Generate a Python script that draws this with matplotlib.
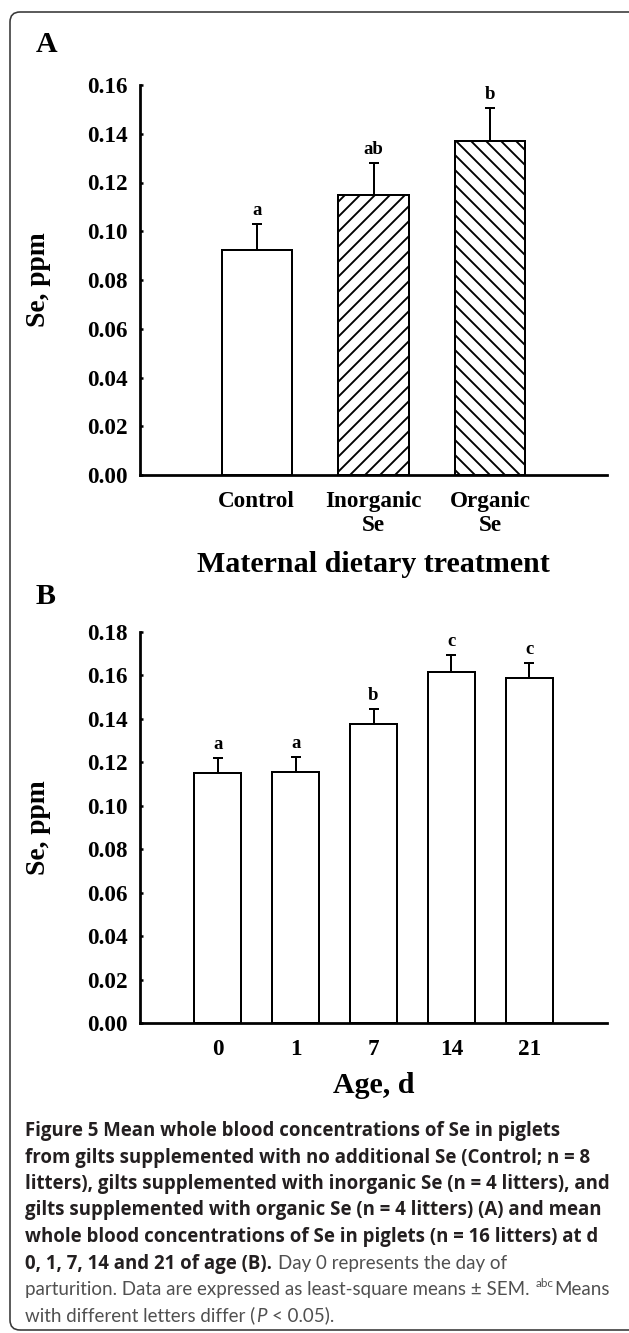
import matplotlib
matplotlib.use('Agg')
import matplotlib.pyplot as plt
from matplotlib.patches import FancyBboxPatch
from matplotlib.transforms import IdentityTransform

# ---- data ----
treatments = ['Control', 'Inorganic\nSe', 'Organic\nSe']
se_treat = [0.0923, 0.1149, 0.1372]
sem_treat = [0.0107, 0.0130, 0.0132]
letters_treat = ['a', 'ab', 'b']
hatches_treat = ['', '//', '\\\\']

ages = ['0', '1', '7', '14', '21']
se_age = [0.1149, 0.1155, 0.1378, 0.1617, 0.1588]
sem_age = [0.0072, 0.0071, 0.0067, 0.0076, 0.0071]
letters_age = ['a', 'a', 'b', 'c', 'c']

W, H, DPI = 629, 1333, 90
serif = 'Liberation Serif'
plt.rcParams['font.family'] = serif
plt.rcParams['font.weight'] = 'bold'
plt.rcParams['hatch.linewidth'] = 1.5
plt.rcParams['hatch.color'] = 'black'

fig = plt.figure(figsize=(W / DPI, H / DPI), dpi=DPI)


def fx(px):
    return px / W


def fy(py):
    return 1 - py / H


def panel(rect, labels, vals, sems, letters, hatches, ymax, bar_w):
    ax = fig.add_axes(rect)
    x = list(range(1, len(vals) + 1))
    ax.bar(x, vals, width=bar_w, color='white', edgecolor='black',
           linewidth=1.6, hatch=hatches, zorder=2)
    ax.errorbar(x, vals, yerr=[[0] * len(vals), sems], fmt='none',
                ecolor='black', elinewidth=1.6, capsize=4, capthick=1.6,
                zorder=1)
    for xi, v, s, lt in zip(x, vals, sems, letters):
        ax.annotate(lt, (xi, v + s), xytext=(0, 4), textcoords='offset points',
                    ha='center', va='bottom', fontsize=15, fontweight='bold')
    ax.set_xlim(0, len(vals) + 1)
    ax.set_ylim(0, ymax)
    ax.set_xticks(x)
    ax.set_xticklabels(labels, fontsize=18.5, fontweight='bold', va='top')
    ax.set_yticks([i * 0.02 for i in range(int(round(ymax / 0.02)) + 1)])
    ax.yaxis.set_major_formatter(plt.FormatStrFormatter('%.2f'))
    for t in ax.get_yticklabels():
        t.set_fontsize(18.5)
        t.set_fontweight('bold')
    ax.tick_params(axis='y', direction='in', length=2.5, width=2, pad=10)
    ax.tick_params(axis='x', length=0, pad=13)
    for sp in ['top', 'right']:
        ax.spines[sp].set_visible(False)
    for sp in ['left', 'bottom']:
        ax.spines[sp].set_linewidth(2.2)
    ax.set_ylabel('Se, ppm', fontsize=22, fontweight='bold')
    ax.yaxis.set_label_coords(-0.19, 0.5)
    return ax


axA = panel([fx(140), fy(475), fx(607) - fx(140), fy(85) - fy(475)],
            treatments, se_treat, sem_treat, letters_treat, hatches_treat,
            0.16, 0.6)
axA.set_xlabel('Maternal dietary treatment', fontsize=24, fontweight='bold')
axA.xaxis.set_label_coords(0.5, -0.195)

axB = panel([fx(140), fy(1023), fx(607) - fx(140), fy(632) - fy(1023)],
            ages, se_age, sem_age, letters_age, [''] * len(ages), 0.18, 0.6)
axB.set_xlabel('Age, d', fontsize=24, fontweight='bold')
axB.xaxis.set_label_coords(0.5, -0.125)

fig.text(fx(36), fy(31), 'A', fontsize=24, fontweight='bold', va='top')
fig.text(fx(36), fy(583), 'B', fontsize=24, fontweight='bold', va='top')

# rounded frame around the figure
frame = FancyBboxPatch((10, 3), 700, 1318,
                       boxstyle='round,pad=0,rounding_size=10',
                       transform=IdentityTransform(), fill=False,
                       edgecolor='#3a3a3a', linewidth=1.3)
fig.add_artist(frame)

# ---- caption ----
bold_font = ['Open Sans', 'DejaVu Sans']
reg_font = ['Lato', 'DejaVu Sans']
dark, grey = '#231f20', '#505050'
caption = [
    [('Figure 5 Mean whole blood concentrations of Se in piglets', 'b')],
    [('from gilts supplemented with no additional Se (Control; n = 8', 'b')],
    [('litters), gilts supplemented with inorganic Se (n = 4 litters), and', 'b')],
    [('gilts supplemented with organic Se (n = 4 litters) (A) and mean', 'b')],
    [('whole blood concentrations of Se in piglets (n = 16 litters) at d', 'b')],
    [('0, 1, 7, 14 and 21 of age (B).', 'b'), (' Day 0 represents the day of', 'r')],
    [('parturition. Data are expressed as least-square means \u00b1 SEM. ', 'r'),
     ('abc', 's'), ('Means', 'r')],
    [('with different letters differ (', 'r'), ('P', 'i'), (' < 0.05).', 'r')],
]

renderer = fig.canvas.get_renderer()


def props(kind):
    if kind == 'b':
        return dict(family=bold_font, fontweight='bold', style='normal')
    return dict(family=reg_font, fontweight='normal',
                style='italic' if kind == 'i' else 'normal')


def width_of(s, size, kind):
    t = fig.text(0, 0, s, fontsize=size, **props(kind))
    w = t.get_window_extent(renderer).width
    t.remove()
    return w


bold_size = 12 * 583 / width_of(caption[2][0][0], 12, 'b')
reg_size = 12 * 566 / width_of(
    'parturition. Data are expressed as least-square means \u00b1 SEM. Means',
    12, 'r')
baseline0, step, x0 = 1136, 26.5, 25

for i, line in enumerate(caption):
    xp = x0
    yb = baseline0 + i * step
    for txt, kind in line:
        size = bold_size if kind == 'b' else reg_size
        if kind == 's':
            size = reg_size * 0.62
        color = dark if kind == 'b' else grey
        sp = width_of('x x', size, kind) - width_of('xx', size, kind)
        if txt.startswith(' '):
            xp += sp
        core = txt.strip()
        yy = yb - (reg_size * DPI / 72 * 0.42 if kind == 's' else 0)
        fig.text(fx(xp), fy(yy), core, fontsize=size, color=color,
                 va='baseline', **props(kind))
        xp += width_of(core, size, kind) + 1
        if txt.endswith(' '):
            xp += sp

fig.savefig('out.png', dpi=DPI)
